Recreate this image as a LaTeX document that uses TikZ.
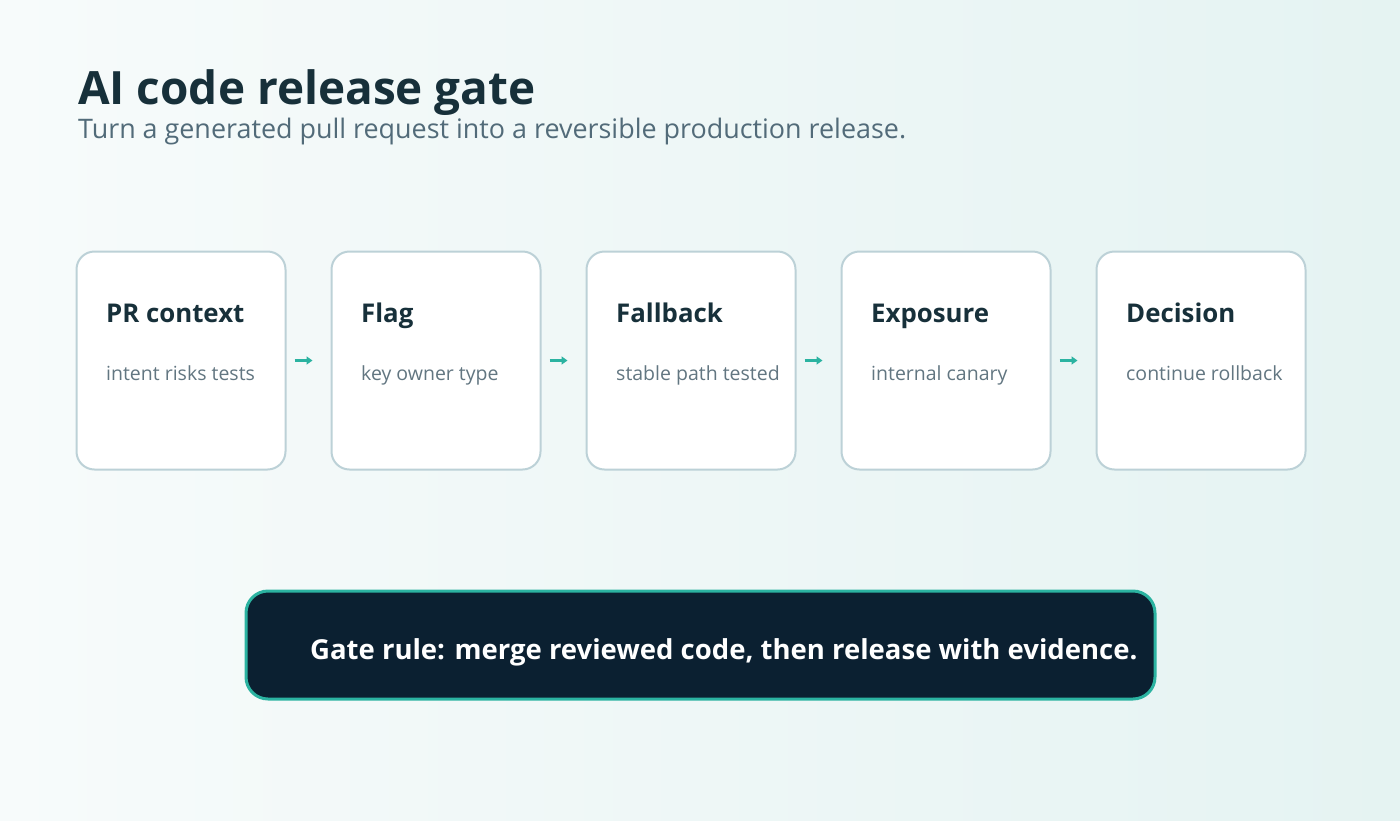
\documentclass[tikz,border=0pt]{standalone}
\usepackage{fontspec}
\setmainfont{Open Sans}
\usetikzlibrary{arrows.meta}
\definecolor{inkdark}{HTML}{17303A}
\definecolor{inksoft}{HTML}{526B79}
\definecolor{inkgrey}{HTML}{627681}
\definecolor{cardline}{HTML}{BCD1D7}
\definecolor{teal}{HTML}{2BB3A1}
\definecolor{navy}{HTML}{0B2031}
\definecolor{bgleft}{HTML}{F7FBFB}
\definecolor{bgright}{HTML}{E5F3F2}
\begin{document}
\begin{tikzpicture}[x=1pt, y=-1pt, every node/.style={inner sep=0pt}]
  \tikzstyle{card}=[draw=cardline,line width=2pt,fill=white,rounded corners=18pt,minimum width=209pt,minimum height=218pt]
  \tikzstyle{head}=[anchor=base west,text=inkdark,font=\fontsize{25.8}{30}\selectfont\bfseries]
  \tikzstyle{sub}=[anchor=base west,text=inkgrey,font=\fontsize{19.5}{24}\selectfont]
  \tikzstyle{arr}=[draw=teal,line width=2.6pt,-{Triangle[length=6pt,width=8pt]}]
  % background
  \fill[left color=bgleft,right color=bgright] (0,0) rectangle (1400,820);
  \useasboundingbox (0,0) rectangle (1400,820);
  % title
  \node[anchor=base west,text=inkdark,font=\fontsize{45.9}{52}\selectfont\bfseries] (title) at (78,104) {AI code release gate};
  \node[anchor=base west,text=inksoft,font=\fontsize{26.9}{32}\selectfont] (subtitle) at (78,138) {Turn a generated pull request into a reversible production release.};
  % cards
  \node[card] (c1) at (181,360.5) {};
  \node[card] (c2) at (436,360.5) {};
  \node[card] (c3) at (691,360.5) {};
  \node[card] (c4) at (946,360.5) {};
  \node[card] (c5) at (1201,360.5) {};
  \node[head] (h1) at (106,322) {PR context};
  \node[sub] (s1) at (106,380) {intent risks tests};
  \node[head] (h2) at (361,322) {Flag};
  \node[sub] (s2) at (361,380) {key owner type};
  \node[head] (h3) at (616,322) {Fallback};
  \node[sub] (s3) at (616,380) {stable path tested};
  \node[head] (h4) at (871,322) {Exposure};
  \node[sub] (s4) at (871,380) {internal canary};
  \node[head] (h5) at (1126,322) {Decision};
  \node[sub] (s5) at (1126,380) {continue rollback};
  % arrows
  \draw[arr] ([xshift=8pt]c1.east) -- ([xshift=-18pt]c2.west);
  \draw[arr] ([xshift=8pt]c2.east) -- ([xshift=-18pt]c3.west);
  \draw[arr] ([xshift=8pt]c3.east) -- ([xshift=-18pt]c4.west);
  \draw[arr] ([xshift=8pt]c4.east) -- ([xshift=-18pt]c5.west);
  % rule
  \node[draw=teal,line width=3pt,fill=navy,rounded corners=22pt,minimum width=909pt,minimum height=108pt] (rule) at (700.5,645) {};
  \node[anchor=base west,text=white,font=\fontsize{27.5}{32}\selectfont\bfseries] (ruletext) at (310,659) {Gate rule: merge reviewed code, then release with evidence.};
\end{tikzpicture}
\end{document}
